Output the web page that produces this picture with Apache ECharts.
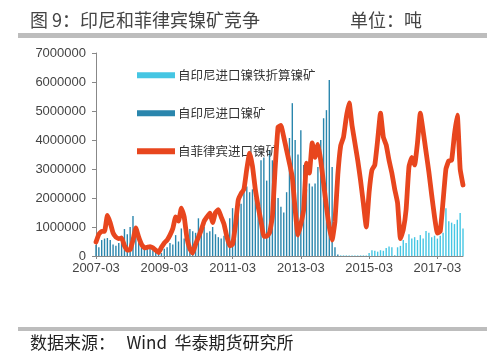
<!DOCTYPE html>
<html><head><meta charset="utf-8">
<script src="https://cdn.jsdelivr.net/npm/echarts@6/dist/echarts.min.js"></script>
<style>html,body{margin:0;padding:0;background:#fff}#c{width:500px;height:363px}</style>
</head><body><div id="c"></div>
<script>
// months 2007-03 .. 2017-12
const startYear = 2007, startMonth = 3, monthCount = 130;
const categories = [];
for (let i = 0; i < monthCount; i++) {
  const m = startMonth - 1 + i;
  const y = startYear + Math.floor(m / 12);
  const mm = (m % 12) + 1;
  categories.push(y + '-' + (mm < 10 ? '0' + mm : mm));
}
const seriesNames = ['自印尼进口镍铁折算镍矿', '自印尼进口镍矿', '自菲律宾进口镍矿'];
const yTicks = [0, 1000000, 2000000, 3000000, 4000000, 5000000, 6000000, 7000000];

const philippinesOre = [
480000,750000,850000,850000,1400000,1150000,800000,650000,600000,620000,
350000,200000,220000,550000,970000,650000,400000,280000,300000,320000,
280000,200000,120000,300000,450000,550000,720000,950000,1350000,1200000,
1650000,1350000,600000,250000,100000,400000,650000,900000,1200000,1350000,
1480000,1150000,1500000,1600000,1350000,1100000,660000,350000,400000,1050000,
1930000,2150000,2300000,3000000,3550000,3100000,2300000,1700000,1200000,680000,
680000,800000,1350000,3070000,4450000,4500000,4100000,3650000,3200000,2720000,
1600000,720000,1100000,1600000,3200000,2860000,3900000,3400000,3850000,3300000,
2500000,1700000,1000000,550000,1200000,2800000,3800000,4100000,4800000,5280000,
4500000,3900000,3300000,2600000,1800000,1000000,2200000,2970000,3140000,4000000,
4930000,4100000,3830000,3300000,2860000,2300000,1830000,600000,900000,1600000,
3070000,3400000,3140000,3900000,4930000,4300000,3600000,2900000,2100000,1350000,
790000,850000,1900000,3000000,3280000,3300000,4200000,4860000,3000000,2450000
];
const indonesiaOre = [
380000,300000,550000,600000,620000,550000,400000,350000,450000,500000,
930000,750000,1000000,1380000,900000,550000,300000,300000,250000,300000,
200000,250000,150000,100000,250000,300000,450000,400000,720000,500000,
950000,600000,800000,930000,850000,800000,1300000,900000,1000000,800000,
850000,1000000,750000,650000,600000,700000,500000,1300000,1650000,1200000,
1930000,1800000,2280000,2400000,2200000,2300000,2000000,1900000,3300000,3400000,
2600000,3650000,3300000,3000000,2000000,1700000,1500000,2200000,4070000,5270000,
4000000,3500000,4340000,3140000,2300000,2500000,2400000,2500000,3070000,4000000,
4750000,5030000,6070000,3070000,300000,50000,0,0,0,0,
0,0,0,0,0,0,0,0,0,0,
0,0,0,0,0,0,0,0,0,0,
0,0,0,0,0,0,0,0,0,0,
0,0,0,0,0,0,0,0,0,0
];
const indonesiaFeNiOre = [
0,0,0,0,0,0,0,0,0,0,
0,0,0,0,0,0,0,0,0,0,
0,0,0,0,0,0,0,0,0,0,
0,0,0,0,0,0,0,0,0,0,
0,0,0,0,0,0,0,0,0,0,
0,0,0,0,0,0,0,0,0,0,
0,0,0,0,0,0,0,0,0,0,
0,0,0,0,0,0,0,0,0,0,
0,0,0,0,0,0,20000,20000,20000,20000,
20000,20000,20000,20000,20000,20000,100000,200000,180000,150000,
200000,180000,280000,330000,300000,30000,300000,350000,550000,450000,
750000,600000,650000,550000,720000,600000,860000,800000,650000,700000,
600000,700000,800000,1650000,1200000,1150000,1100000,1250000,1480000,950000
];

const chart = echarts.init(document.getElementById('c'), null, {renderer: 'canvas'});
const cjk = '"Noto Sans CJK SC", sans-serif';
const numFont = '"Liberation Sans", Arial, sans-serif';
const legendBase = {
  orient: 'vertical', left: 132, itemWidth: 38, itemHeight: 6, icon: 'rect',
  textStyle: {fontFamily: cjk, fontSize: 12.5, color: '#333', padding: [0, 0, 0, -2]},
  selectedMode: false
};
chart.setOption({
  animation: false,
  backgroundColor: '#fff',
  grid: {left: 96, right: 37, top: 53, bottom: 107, containLabel: false},
  legend: [
    Object.assign({}, legendBase, {top: 64, data: [seriesNames[0]]}),
    Object.assign({}, legendBase, {top: 102, data: [seriesNames[1]]}),
    Object.assign({}, legendBase, {top: 140, data: [seriesNames[2]], itemHeight: 6})
  ],
  xAxis: {
    type: 'category', data: categories, boundaryGap: false,
    axisLine: {lineStyle: {color: '#888', width: 1}},
    axisTick: {show: true, interval: 23, length: 3, lineStyle: {color: '#888'}},
    axisLabel: {interval: 23, margin: 6, fontFamily: numFont, fontSize: 13, color: '#444'},
    splitLine: {show: false}
  },
  yAxis: {
    type: 'value', min: yTicks[0], max: yTicks[yTicks.length - 1], interval: 1000000,
    axisLine: {show: true, lineStyle: {color: '#888', width: 1}},
    axisTick: {show: true, length: 4, lineStyle: {color: '#888'}},
    axisLabel: {margin: 10, fontFamily: numFont, fontSize: 13, color: '#444',
      formatter: function (v) { return String(v); }},
    splitLine: {show: false}
  },
  series: [
    {name: seriesNames[0], type: 'bar', stack: 'ni', data: indonesiaFeNiOre, barWidth: 1.4,
     itemStyle: {color: '#45c6e3'}},
    {name: seriesNames[1], type: 'bar', stack: 'ni', data: indonesiaOre, barWidth: 1.4,
     itemStyle: {color: '#2a86ad'}},
    {name: seriesNames[2], type: 'line', data: philippinesOre, showSymbol: false, symbol: 'none',
     smooth: 0.12, lineStyle: {color: '#e8461e', width: 4.8, cap: 'round', join: 'round'},
     itemStyle: {color: '#e8461e'}, z: 5}
  ],
  graphic: [
    {type: 'text', left: 30, top: 11, style: {text: '图 9：印尼和菲律宾镍矿竞争', font: '18px "Noto Sans CJK SC"', fill: '#444'}},
    {type: 'text', left: 350, top: 11, style: {text: '单位：吨', font: '18px "Noto Sans CJK SC"', fill: '#444'}},
    {type: 'rect', shape: {x: 18, y: 33, width: 469, height: 5}, style: {fill: '#bdbdbd'}},
    {type: 'rect', shape: {x: 18, y: 327, width: 469, height: 4}, style: {fill: '#bdbdbd'}},
    {type: 'text', left: 30, top: 334, style: {text: '数据来源：   Wind  华泰期货研究所', font: '17px "Noto Sans CJK SC"', fill: '#222'}}
  ]
});
</script></body></html>
